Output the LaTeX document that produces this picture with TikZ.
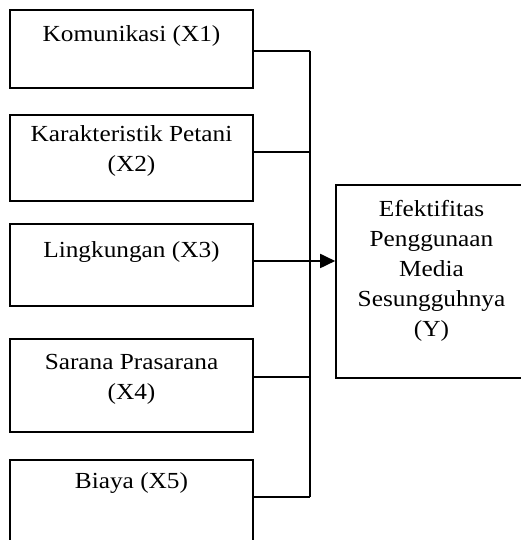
\documentclass[tikz,border=0pt]{standalone}
\usepackage{fontspec}
\setmainfont{Liberation Serif}[FakeStretch=1.1]
\usetikzlibrary{arrows.meta}
\tikzset{
  kotak/.style={draw,line width=1.6pt,minimum width=243pt,inner sep=0pt},
  teks/.style={anchor=north,inner sep=0pt,align=center,font=\fontsize{23}{30}\selectfont},
  garis/.style={line width=1.8pt},
}

\begin{document}
\begin{tikzpicture}[x=1pt,y=1pt]
		\useasboundingbox (0,0) rectangle (520,540);
		
		\node[kotak,minimum height=78pt] (x1) at (131.5,491) {};
		\node[kotak,minimum height=86pt] (x2) at (131.5,382) {};
		\node[kotak,minimum height=82pt] (x3) at (131.5,275) {};
		\node[kotak,minimum height=93pt] (x4) at (131.5,154.5) {};
		\node[kotak,minimum height=100pt] (x5) at (131.5,30) {};
		\node[kotak,minimum width=191pt,minimum height=193pt] (y) at (431.5,258.5) {};
		
		\node[teks] (t1) at ([yshift=-16pt]x1.north) {Komunikasi (X1)};
		\node[teks] (t2) at ([yshift=-11pt]x2.north) {Karakteristik Petani\\(X2)};
		\node[teks] (t3) at ([yshift=-18pt]x3.north) {Lingkungan (X3)};
		\node[teks] (t4) at ([yshift=-16pt]x4.north) {Sarana Prasarana\\(X4)};
		\node[teks] (t5) at ([yshift=-13pt]x5.north) {Biaya (X5)};
		\node[teks] (ty) at ([yshift=-16pt]y.north) {Efektifitas\\Penggunaan\\Media\\Sesungguhnya\\(Y)};
		
		\coordinate (b1) at (310,489);
		\coordinate (b2) at (310,388);
		\coordinate (b3) at (310,279);
		\coordinate (b4) at (310,163);
		\coordinate (b5) at (310,43);
		\coordinate (a) at (288,279);
		
		\draw[garis] (x1.east |- b1) to (b1);
		\draw[garis] (x2.east |- b2) to (b2);
		\draw[garis] (x3.east |- b3) to (b3);
		\draw[garis] (x4.east |- b4) to (b4);
		\draw[garis] (x5.east |- b5) to (b5);
		\draw[garis] (b1) to (b5);
		\draw[garis,-{Triangle[length=15pt,width=14pt]}] (a) to (y.west |- a);
	\end{tikzpicture}
\end{document}
